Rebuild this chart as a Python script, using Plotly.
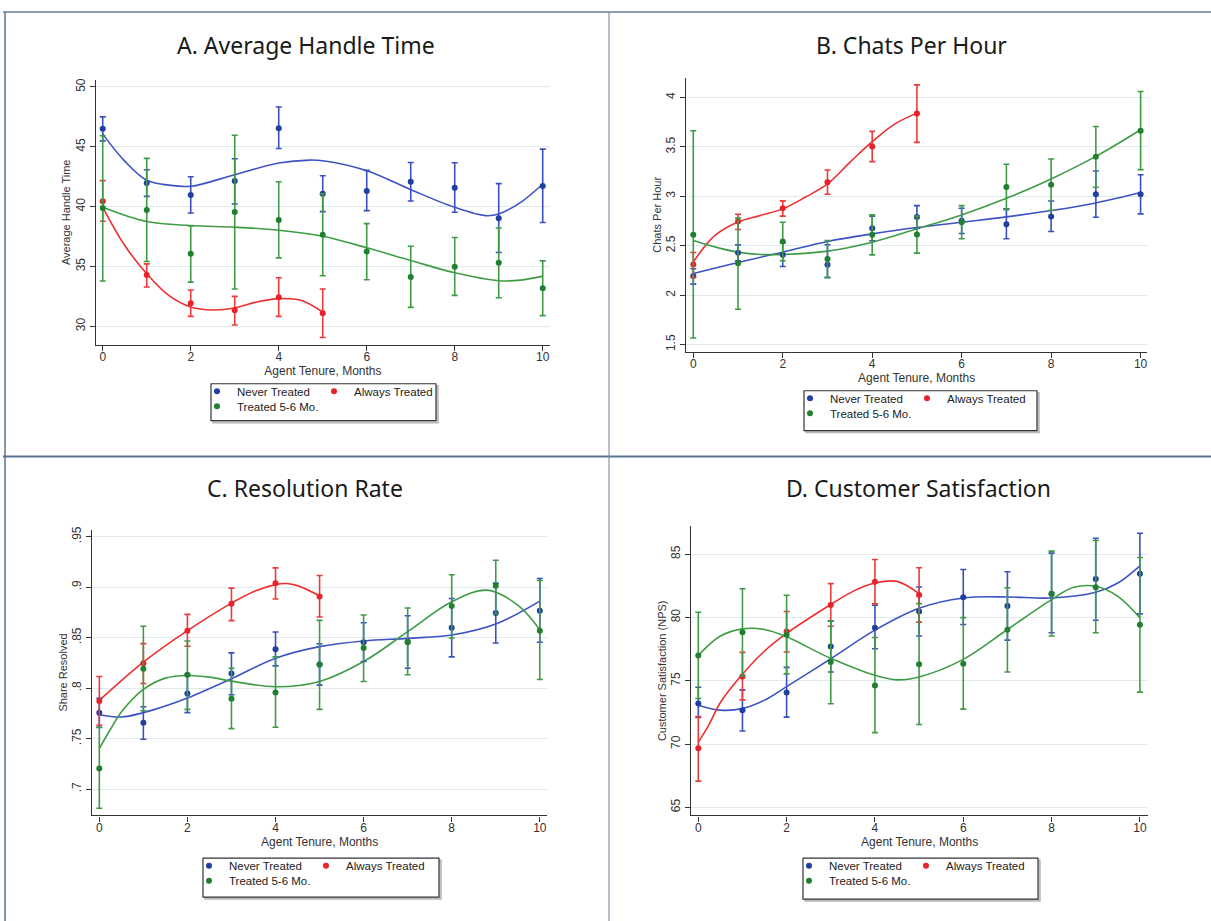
import plotly.graph_objects as go

W, H = 1211, 921


def px(x):
    return x / W


def py(y):
    return 1 - y / H


MONTHS = list(range(11))
MONTHS_ALWAYS = list(range(6))
SERIES_NAMES = ["Never Treated", "Always Treated", "Treated 5-6 Mo."]

# ---------------- Panel A: Average Handle Time ----------------
A_NEVER = [46.5, 41.97, 40.97, 42.14, 46.56, 41.08, 41.31, 42.08, 41.58, 39.03, 41.72]
A_NEVER_HI = [47.5, 43.08, 42.5, 44.0, 48.33, 42.58, 43.03, 43.69, 43.67, 41.92, 44.81]
A_NEVER_LO = [45.5, 40.86, 39.47, 40.22, 44.86, 39.58, 39.67, 40.47, 39.53, 36.17, 38.67]
A_ALWAYS = [40.44, 34.28, 31.92, 31.33, 32.42, 31.08]
A_ALWAYS_HI = [42.17, 35.22, 33.03, 32.5, 34.06, 33.11]
A_ALWAYS_LO = [38.78, 33.28, 30.83, 30.11, 30.83, 29.06]
A_TREAT = [39.89, 39.72, 36.06, 39.56, 38.89, 37.64, 36.25, 34.11, 34.97, 35.31, 33.17]
A_TREAT_HI = [45.92, 44.03, 38.39, 45.97, 42.08, 41.08, 38.58, 36.69, 37.42, 38.22, 35.47]
A_TREAT_LO = [33.78, 35.42, 33.69, 33.11, 35.72, 34.22, 33.89, 31.58, 32.58, 32.39, 30.89]
A_NEVER_FIT_X = [0, 0.5, 1, 1.5, 2, 3, 4, 4.7, 5, 6, 7, 8, 8.7, 9, 9.5, 10]
A_NEVER_FIT = [46.06, 43.8, 42.2, 41.8, 41.7, 42.67, 43.64, 43.89, 43.83, 43.0, 41.42, 39.94, 39.25, 39.39, 40.36, 41.89]
A_ALWAYS_FIT_X = [0, 0.5, 1, 1.5, 2, 2.5, 3, 3.5, 4, 4.5, 5]
A_ALWAYS_FIT = [39.94, 36.75, 34.39, 32.58, 31.61, 31.36, 31.53, 32.03, 32.31, 32.17, 31.19]
A_TREAT_FIT_X = [0, 1, 2, 3, 4, 5, 6, 7, 8, 9, 9.5, 10]
A_TREAT_FIT = [39.94, 38.75, 38.42, 38.28, 38.03, 37.53, 36.56, 35.5, 34.47, 33.81, 33.86, 34.19]

# ---------------- Panel B: Chats Per Hour ----------------
B_NEVER = [2.193, 2.429, 2.41, 2.307, 2.678, 2.792, 2.752, 2.718, 2.795, 3.021, 3.021]
B_NEVER_HI = [2.267, 2.509, 2.53, 2.51, 2.80, 2.906, 2.88, 2.873, 2.953, 3.256, 3.219]
B_NEVER_LO = [2.112, 2.348, 2.29, 2.18, 2.55, 2.681, 2.624, 2.57, 2.644, 2.789, 2.822]
B_ALWAYS = [2.311, 2.745, 2.88, 3.142, 3.505, 3.838]
B_ALWAYS_HI = [2.432, 2.819, 2.954, 3.266, 3.657, 4.128]
B_ALWAYS_LO = [2.18, 2.664, 2.8, 3.021, 3.351, 3.546]
B_TREAT = [2.61, 2.324, 2.543, 2.365, 2.61, 2.614, 2.738, 3.095, 3.118, 3.401, 3.664]
B_TREAT_HI = [3.664, 2.779, 2.738, 2.553, 2.812, 2.8, 2.906, 3.324, 3.378, 3.707, 4.061]
B_TREAT_LO = [1.567, 1.857, 2.348, 2.176, 2.408, 2.425, 2.57, 2.866, 2.859, 3.092, 3.27]
B_NEVER_FIT_X = [0, 1, 2, 3, 4, 5, 6, 7, 8, 9, 10]
B_NEVER_FIT = [2.22, 2.331, 2.435, 2.543, 2.62, 2.684, 2.738, 2.792, 2.856, 2.933, 3.038]
B_ALWAYS_FIT_X = [0, 0.25, 0.5, 1, 1.5, 2, 2.5, 3, 3.5, 4, 4.5, 5]
B_ALWAYS_FIT = [2.334, 2.49, 2.61, 2.74, 2.806, 2.873, 2.99, 3.125, 3.344, 3.553, 3.731, 3.842]
B_TREAT_FIT_X = [0, 0.5, 1, 1.5, 2, 3, 4, 5, 6, 7, 8, 9, 10]
B_TREAT_FIT = [2.553, 2.486, 2.435, 2.412, 2.412, 2.445, 2.536, 2.671, 2.812, 2.98, 3.176, 3.404, 3.674]

# ---------------- Panel C: Resolution Rate ----------------
C_NEVER = [0.7757, 0.7658, 0.7947, 0.8145, 0.8385, 0.8235, 0.8454, 0.846, 0.8599, 0.8743, 0.8766]
C_NEVER_HI = [0.790, 0.7816, 0.8138, 0.8349, 0.8556, 0.844, 0.8648, 0.8717, 0.8888, 0.904, 0.9086]
C_NEVER_LO = [0.761, 0.7493, 0.7757, 0.7934, 0.822, 0.803, 0.8263, 0.8197, 0.8309, 0.8447, 0.8454]
C_ALWAYS = [0.7872, 0.8247, 0.8569, 0.8836, 0.9039, 0.8908]
C_ALWAYS_HI = [0.8115, 0.8441, 0.873, 0.899, 0.9191, 0.9115]
C_ALWAYS_LO = [0.7632, 0.8046, 0.8414, 0.8668, 0.8882, 0.8704]
C_TREAT = [0.7204, 0.8191, 0.8132, 0.7895, 0.7957, 0.8234, 0.8398, 0.8454, 0.8813, 0.9013, 0.8569]
C_TREAT_HI = [0.7612, 0.8612, 0.8467, 0.8197, 0.8309, 0.8671, 0.8724, 0.8793, 0.9122, 0.9266, 0.9066]
C_TREAT_LO = [0.681, 0.7776, 0.7789, 0.7599, 0.7612, 0.7789, 0.8066, 0.8132, 0.8497, 0.8737, 0.8086]
C_NEVER_FIT_X = [0, 0.5, 1, 1.5, 2, 3, 4, 5, 6, 7, 8, 9, 10]
C_NEVER_FIT = [0.7737, 0.7714, 0.7757, 0.7822, 0.7901, 0.8092, 0.8296, 0.8411, 0.8467, 0.8493, 0.8526, 0.8635, 0.8862]
C_ALWAYS_FIT_X = [0, 1, 2, 3, 3.5, 4, 4.25, 4.5, 5]
C_ALWAYS_FIT = [0.7878, 0.8257, 0.8569, 0.8842, 0.8955, 0.9025, 0.9036, 0.9015, 0.8914]
C_TREAT_FIT_X = [0, 0.25, 0.5, 1, 1.5, 2, 2.5, 3, 4, 5, 6, 7, 8, 8.8, 9.5, 10]
C_TREAT_FIT = [0.7401, 0.759, 0.7763, 0.7987, 0.8099, 0.8125, 0.8109, 0.8069, 0.8013, 0.8066, 0.8263, 0.8559, 0.8855, 0.897, 0.8822, 0.8579]

# ---------------- Panel D: Customer Satisfaction ----------------
D_NEVER = [73.2, 72.68, 74.07, 77.71, 79.18, 80.47, 81.59, 80.91, 81.85, 83.03, 83.45]
D_NEVER_HI = [74.49, 74.28, 76.06, 79.71, 80.96, 82.4, 83.79, 83.61, 85.08, 86.26, 86.65]
D_NEVER_LO = [72.1, 71.03, 72.13, 75.69, 77.53, 78.53, 79.44, 78.21, 78.79, 79.78, 80.28]
D_ALWAYS = [69.67, 75.33, 78.89, 80.99, 82.82, 81.78]
D_ALWAYS_HI = [72.18, 77.24, 80.47, 82.67, 84.58, 83.93]
D_ALWAYS_LO = [67.07, 73.49, 77.27, 79.31, 81.07, 79.63]
D_TREAT = [77.0, 78.84, 78.63, 76.48, 74.62, 76.3, 76.35, 79.02, 81.88, 82.38, 79.42]
D_TREAT_HI = [80.41, 82.27, 81.75, 79.73, 78.42, 81.09, 79.99, 82.35, 85.24, 86.08, 84.74]
D_TREAT_LO = [73.6, 75.38, 75.54, 73.18, 70.9, 71.55, 72.76, 75.69, 78.53, 78.79, 74.1]
D_NEVER_FIT_X = [0, 0.5, 1, 1.5, 2, 3, 4, 5, 6, 7, 8, 9, 9.5, 10]
D_NEVER_FIT = [73.07, 72.68, 72.81, 73.47, 74.54, 76.74, 79.0, 80.73, 81.54, 81.62, 81.54, 81.99, 82.72, 84.08]
D_ALWAYS_FIT_X = [0, 0.25, 0.5, 1, 1.5, 2, 3, 3.5, 4, 4.5, 5]
D_ALWAYS_FIT = [70.14, 71.58, 73.28, 75.51, 77.35, 78.74, 81.02, 82.06, 82.72, 82.85, 81.88]
D_TREAT_FIT_X = [0, 0.5, 1, 1.5, 2, 3, 4, 4.5, 5, 6, 7, 8, 8.5, 9, 9.5, 10]
D_TREAT_FIT = [77.0, 78.53, 79.1, 79.05, 78.47, 76.77, 75.43, 75.07, 75.3, 76.69, 79.05, 81.41, 82.38, 82.46, 81.67, 79.97]

PANEL_TITLES = ["A. Average Handle Time", "B. Chats Per Hour", "C. Resolution Rate", "D. Customer Satisfaction"]
Y_TITLES = ["Average Handle Time", "Chats Per Hour", "Share Resolved", "Customer Satisfaction (NPS)"]
X_TITLE = "Agent Tenure, Months"
X_TICKS = [0, 2, 4, 6, 8, 10]
A_YTICKS = [30, 35, 40, 45, 50]
B_YTICKS = [1.5, 2, 2.5, 3, 3.5, 4]
C_YTICKS = [0.7, 0.75, 0.8, 0.85, 0.9, 0.95]
C_YTICK_TEXT = [".7", ".75", ".8", ".85", ".9", ".95"]
D_YTICKS = [65, 70, 75, 80, 85]

LINE_COLORS = ["#3d52c4", "#ee2f2f", "#3f9c45"]
MARK_COLORS = ["#203f9e", "#e8222a", "#21802f"]
ERR_COLORS = ["#3a50c0", "#ee3a3a", "#3f9a46"]

panels = [
    dict(pts=[(MONTHS, A_NEVER, A_NEVER_HI, A_NEVER_LO), (MONTHS_ALWAYS, A_ALWAYS, A_ALWAYS_HI, A_ALWAYS_LO),
              (MONTHS, A_TREAT, A_TREAT_HI, A_TREAT_LO)],
         fits=[(A_NEVER_FIT_X, A_NEVER_FIT), (A_ALWAYS_FIT_X, A_ALWAYS_FIT), (A_TREAT_FIT_X, A_TREAT_FIT)],
         xpx=(95.7, 550.2), ypx=(342.7, 77.3), xr=[-0.16, 10.17], yr=[28.47, 50.58],
         yticks=A_YTICKS, ytext=None, title_xy=(306, 45), legend_box=(211, 382, 436, 419)),
    dict(pts=[(MONTHS, B_NEVER, B_NEVER_HI, B_NEVER_LO), (MONTHS_ALWAYS, B_ALWAYS, B_ALWAYS_HI, B_ALWAYS_LO),
              (MONTHS, B_TREAT, B_TREAT_HI, B_TREAT_LO)],
         fits=[(B_NEVER_FIT_X, B_NEVER_FIT), (B_ALWAYS_FIT_X, B_ALWAYS_FIT), (B_TREAT_FIT_X, B_TREAT_FIT)],
         xpx=(686, 1147.3), ypx=(350, 75), xr=[-0.163, 10.15], yr=[1.426, 4.2],
         yticks=B_YTICKS, ytext=None, title_xy=(911, 45), legend_box=(804, 389, 1037, 429)),
    dict(pts=[(MONTHS, C_NEVER, C_NEVER_HI, C_NEVER_LO), (MONTHS_ALWAYS, C_ALWAYS, C_ALWAYS_HI, C_ALWAYS_LO),
              (MONTHS, C_TREAT, C_TREAT_HI, C_TREAT_LO)],
         fits=[(C_NEVER_FIT_X, C_NEVER_FIT), (C_ALWAYS_FIT_X, C_ALWAYS_FIT), (C_TREAT_FIT_X, C_TREAT_FIT)],
         xpx=(92, 547.3), ypx=(815, 528.3), xr=[-0.166, 10.17], yr=[0.674, 0.957],
         yticks=C_YTICKS, ytext=C_YTICK_TEXT, title_xy=(305, 490), legend_box=(203, 858, 439, 897)),
    dict(pts=[(MONTHS, D_NEVER, D_NEVER_HI, D_NEVER_LO), (MONTHS_ALWAYS, D_ALWAYS, D_ALWAYS_HI, D_ALWAYS_LO),
              (MONTHS, D_TREAT, D_TREAT_HI, D_TREAT_LO)],
         fits=[(D_NEVER_FIT_X, D_NEVER_FIT), (D_ALWAYS_FIT_X, D_ALWAYS_FIT), (D_TREAT_FIT_X, D_TREAT_FIT)],
         xpx=(691, 1148.3), ypx=(815, 525), xr=[-0.165, 10.19], yr=[64.37, 87.2],
         yticks=D_YTICKS, ytext=None, title_xy=(918, 490), legend_box=(803, 858, 1038, 899)),
]

fig = go.Figure()
FONT_FAMILY = "Liberation Sans, Arial, sans-serif"
TICK_FONT = dict(family=FONT_FAMILY, size=12, color="#333333")
shapes = []
annotations = []
layout_extra = {}

# legend entry positions relative to the legend box: (dot dx, row dy)
ENTRY_OFFSETS = [(5, 9), (122, 9), (5, 24)]

leg_counter = 0
for i, p in enumerate(panels):
    n = i + 1
    xa = "x" if n == 1 else f"x{n}"
    ya = "y" if n == 1 else f"y{n}"
    bl, bt, br, bbm = p["legend_box"]
    # fitted curves first (drawn under points)
    for s, (fx, fy) in enumerate(p["fits"]):
        fig.add_trace(go.Scatter(x=fx, y=fy, mode="lines",
                                 line=dict(color=LINE_COLORS[s], width=1.6, shape="spline", smoothing=1.0),
                                 xaxis=xa, yaxis=ya, showlegend=False, hoverinfo="skip"))
    for s, (xs, m, hi, lo) in enumerate(p["pts"]):
        leg_counter += 1
        leg_name = "legend" if leg_counter == 1 else f"legend{leg_counter}"
        fig.add_trace(go.Scatter(
            x=xs, y=m, mode="markers", name=SERIES_NAMES[s],
            marker=dict(color=MARK_COLORS[s], size=6),
            error_y=dict(type="data", symmetric=False,
                         array=[h - v for h, v in zip(hi, m)],
                         arrayminus=[v - l for v, l in zip(m, lo)],
                         color=ERR_COLORS[s], thickness=1.6, width=3),
            xaxis=xa, yaxis=ya, legend=leg_name))
        dx, dy = ENTRY_OFFSETS[s]
        layout_extra[leg_name] = dict(x=px(bl + dx - 19), y=py(bt + dy - 16), xanchor="left", yanchor="top",
                                      orientation="h", bgcolor="rgba(0,0,0,0)", borderwidth=0,
                                      font=dict(family=FONT_FAMILY, size=11.5, color="#222222"),
                                      itemwidth=30)

    x0, x1 = p["xpx"]
    yb, yt = p["ypx"]
    xkey = "xaxis" if n == 1 else f"xaxis{n}"
    ykey = "yaxis" if n == 1 else f"yaxis{n}"
    layout_extra[xkey] = dict(domain=[px(x0), px(x1)], range=p["xr"], anchor=ya,
                              tickvals=X_TICKS, ticks="outside", ticklen=5, tickwidth=1.2, tickcolor="#333333",
                              showline=True, linecolor="#333333", linewidth=1.4, showgrid=False, zeroline=False,
                              tickfont=TICK_FONT, ticklabelstandoff=-4,
                              title=dict(text=X_TITLE, font=dict(family=FONT_FAMILY, size=12, color="#333333"),
                                         standoff=0))
    ydict = dict(domain=[py(yb), py(yt)], range=p["yr"], anchor=xa,
                 tickvals=p["yticks"], ticks="outside", ticklen=5, tickwidth=1.2, tickcolor="#333333",
                 showline=True, linecolor="#333333", linewidth=1.4, showgrid=True, gridcolor="#dfeaee", gridwidth=1,
                 zeroline=False, tickangle=-90, tickfont=TICK_FONT,
                 title=dict(text=Y_TITLES[i], font=dict(family=FONT_FAMILY, size=11, color="#333333"), standoff=0))
    if p["ytext"] is not None:
        ydict["ticktext"] = p["ytext"]
    layout_extra[ykey] = ydict

    tx, ty = p["title_xy"]
    annotations.append(dict(text=PANEL_TITLES[i], x=px(tx), y=py(ty - 3), xref="paper", yref="paper",
                            showarrow=False, xanchor="center", yanchor="middle",
                            font=dict(family="Noto Sans, sans-serif", size=23, color="#1a1a1a")))

    # legend frame with a soft shadow
    shapes.append(dict(type="rect", xref="paper", yref="paper", x0=px(bl + 2), x1=px(br + 2), y0=py(bbm + 2),
                       y1=py(bt + 2), line=dict(color="#b8b8b8", width=1.5), fillcolor="#d0d0d0", layer="below"))
    shapes.append(dict(type="rect", xref="paper", yref="paper", x0=px(bl), x1=px(br), y0=py(bbm), y1=py(bt),
                       line=dict(color="#333333", width=1.2), fillcolor="white", layer="below"))

# frame lines of the 2x2 layout
shapes += [
    dict(type="line", xref="paper", yref="paper", x0=px(3), x1=1, y0=py(9), y1=py(9),
         line=dict(color="#8d9db2", width=2)),
    dict(type="line", xref="paper", yref="paper", x0=px(3), x1=1, y0=py(455), y1=py(455),
         line=dict(color="#5b7495", width=2)),
    dict(type="line", xref="paper", yref="paper", x0=px(5), x1=px(5), y0=py(9), y1=0,
         line=dict(color="#5b7495", width=1.5)),
    dict(type="line", xref="paper", yref="paper", x0=px(609), x1=px(609), y0=py(9), y1=0,
         line=dict(color="#6f8199", width=1)),
]

fig.update_layout(width=W, height=H, margin=dict(l=0, r=0, t=0, b=0),
                  paper_bgcolor="white", plot_bgcolor="white",
                  shapes=shapes, annotations=annotations, **layout_extra)

fig.write_html("out.html", config={"displayModeBar": False},
               post_script="document.body.style.margin='0';document.body.style.overflow='hidden';")
